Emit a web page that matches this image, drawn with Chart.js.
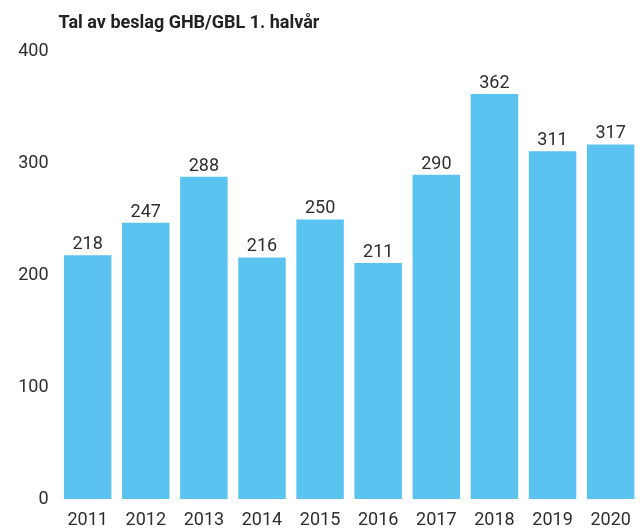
<!DOCTYPE html>
<html>
<head>
<meta charset="utf-8">
<script src="https://cdn.jsdelivr.net/npm/chart.js@4"></script>
<style>
  html, body { margin: 0; padding: 0; background: #fff; overflow: hidden; }
  #wrap { width: 642px; height: 529px; }
</style>
</head>
<body>
<div id="wrap"><canvas id="beslagChart" width="642" height="529"></canvas></div>
<script>
var years = ['2011', '2012', '2013', '2014', '2015', '2016', '2017', '2018', '2019', '2020'];
var seizures = [218, 247, 288, 216, 250, 211, 290, 362, 311, 317];
var yTicks = [0, 100, 200, 300, 400];

var textColor = '#2e2e2e';
var fontFamily = 'Roboto, "Liberation Sans", sans-serif';

// draws the value above each bar
var valueLabels = {
    id: 'valueLabels',
    afterDatasetsDraw: function(chart) {
        var ctx = chart.ctx;
        var meta = chart.getDatasetMeta(0);
        ctx.save();
        ctx.font = '18px ' + fontFamily;
        ctx.fillStyle = textColor;
        ctx.textAlign = 'center';
        ctx.textBaseline = 'alphabetic';
        meta.data.forEach(function(bar, i) {
            ctx.fillText(String(seizures[i]), bar.x, bar.y - 6);
        });
        ctx.restore();
    }
};

var ctx = document.getElementById('beslagChart').getContext('2d');

var chart = new Chart(ctx, {
    type: 'bar',
    data: {
        labels: years,
        datasets: [{
            data: seizures,
            backgroundColor: '#5ac3f0',
            borderWidth: 0,
            barPercentage: 0.817,
            categoryPercentage: 1
        }]
    },
    options: {
        responsive: false,
        animation: false,
        layout: { padding: 0 },
        scales: {
            x: {
                grid: { display: false, drawTicks: false },
                border: { display: false },
                ticks: {
                    color: textColor,
                    font: { family: fontFamily, size: 18 },
                    padding: 11,
                    maxRotation: 0
                },
                afterFit: function(scale) { scale.height = 30; }
            },
            y: {
                min: 0,
                max: 400,
                grid: { display: false, drawTicks: false },
                border: { display: false },
                afterBuildTicks: function(scale) {
                    scale.ticks = yTicks.map(function(v) { return { value: v }; });
                },
                ticks: {
                    color: textColor,
                    font: { family: fontFamily, size: 18 },
                    padding: 10
                },
                afterFit: function(scale) { scale.width = 58.6; }
            }
        },
        plugins: {
            legend: { display: false },
            tooltip: { enabled: false },
            title: {
                display: true,
                text: 'Tal av beslag GHB/GBL 1. halvår',
                align: 'start',
                fullSize: false,
                color: '#222',
                font: { family: fontFamily, size: 18, weight: 'bold' },
                padding: { top: 13, bottom: 17 }
            }
        }
    },
    plugins: [valueLabels]
});
</script>
</body>
</html>
